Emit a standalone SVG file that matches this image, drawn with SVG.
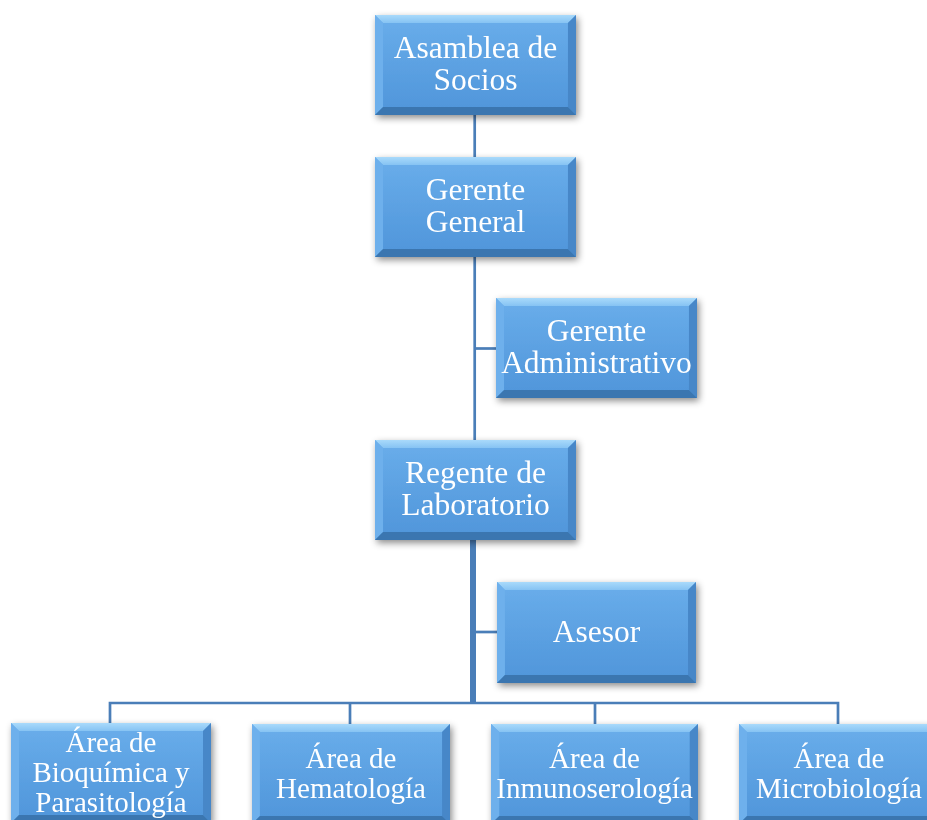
<svg xmlns="http://www.w3.org/2000/svg" xmlns:xlink="http://www.w3.org/1999/xlink" width="927" height="820" viewBox="0 0 927 820">
  <defs>
    <linearGradient id="face" x1="0" y1="0" x2="0" y2="1">
      <stop offset="0" stop-color="#6AAEEB"/>
      <stop offset="0.5" stop-color="#5CA1E2"/>
      <stop offset="1" stop-color="#4F95DA"/>
    </linearGradient>
    <linearGradient id="topEdge" x1="0" y1="0" x2="0" y2="1">
      <stop offset="0" stop-color="#A9DAFB"/>
      <stop offset="1" stop-color="#86C3F3"/>
    </linearGradient>
    <filter id="shadow" x="-10%" y="-10%" width="125%" height="130%">
      <feDropShadow dx="2" dy="3" stdDeviation="3.5" flood-color="#000" flood-opacity="0.45"/>
    </filter>
    <!-- bevelled tile, 200 x 100 -->
    <g id="tile">
      <rect x="0" y="0" width="200" height="100" fill="url(#face)"/>
      <polygon points="0,0 200,0 192,8 8,8" fill="url(#topEdge)"/>
      <polygon points="0,0 8,8 8,92 0,100" fill="#6EB0EC"/>
      <polygon points="200,0 200,100 192,92 192,8" fill="#4687C8"/>
      <polygon points="0,100 8,92 192,92 200,100" fill="#3B76B0"/>
    </g>
  </defs>
  <style>
    .node { filter: url(#shadow); }
    .label { fill: #FFFFFF; font-family: "Liberation Serif", "Times New Roman", serif; text-anchor: middle; }
    .big { font-size: 31.5px; }
    .small { font-size: 29px; }
    .link { stroke: #4A7EB8; fill: none; stroke-width: 2.7; }
    .trunk { stroke: #4A7EB8; fill: none; stroke-width: 6; }
  </style>

  <rect width="927" height="820" fill="#FFFFFF"/>

  <!-- connectors -->
  <g id="connectors">
    <line class="link" x1="474.7" y1="115" x2="474.7" y2="157"/>
    <line class="link" x1="474.7" y1="257" x2="474.7" y2="440"/>
    <line class="link" x1="474.7" y1="348.5" x2="496" y2="348.5"/>
    <line class="trunk" x1="473" y1="540" x2="473" y2="704"/>
    <line class="link" x1="473" y1="632" x2="497" y2="632"/>
    <polyline class="link" points="110,724 110,703 838,703 838,724"/>
    <line class="link" x1="350" y1="703" x2="350" y2="724"/>
    <line class="link" x1="595" y1="703" x2="595" y2="724"/>
  </g>

  <g id="asamblea" class="node">
    <use xlink:href="#tile" transform="translate(375,15) scale(1.005,1)"/>
    <text class="label big" x="475.5" y="58">Asamblea de</text>
    <text class="label big" x="475.5" y="90">Socios</text>
  </g>

  <g id="gerente-general" class="node">
    <use xlink:href="#tile" transform="translate(375,157) scale(1.005,1)"/>
    <text class="label big" x="475.5" y="200">Gerente</text>
    <text class="label big" x="475.5" y="232">General</text>
  </g>

  <g id="gerente-administrativo" class="node">
    <use xlink:href="#tile" transform="translate(496,298) scale(1.005,1)"/>
    <text class="label big" x="596.5" y="341">Gerente</text>
    <text class="label big" x="596.5" y="373">Administrativo</text>
  </g>

  <g id="regente" class="node">
    <use xlink:href="#tile" transform="translate(375,440) scale(1.005,1)"/>
    <text class="label big" x="475.5" y="483">Regente de</text>
    <text class="label big" x="475.5" y="515">Laboratorio</text>
  </g>

  <g id="asesor" class="node">
    <use xlink:href="#tile" transform="translate(497,582) scale(0.995,1.01)"/>
    <text class="label big" x="596.5" y="642">Asesor</text>
  </g>

  <g id="bioquimica" class="node">
    <use xlink:href="#tile" transform="translate(11,723)"/>
    <text class="label small" x="111" y="752">Área de</text>
    <text class="label small" x="111" y="782">Bioquímica y</text>
    <text class="label small" x="111" y="812">Parasitología</text>
  </g>

  <g id="hematologia" class="node">
    <use xlink:href="#tile" transform="translate(252,724) scale(0.99,1)"/>
    <text class="label small" x="351" y="768">Área de</text>
    <text class="label small" x="351" y="798">Hematología</text>
  </g>

  <g id="inmunoserologia" class="node">
    <use xlink:href="#tile" transform="translate(491,724) scale(1.035,1)"/>
    <text class="label small" x="594.5" y="768">Área de</text>
    <text class="label small" x="594.5" y="798">Inmunoserología</text>
  </g>

  <g id="microbiologia" class="node">
    <use xlink:href="#tile" transform="translate(739,724)"/>
    <text class="label small" x="839" y="768">Área de</text>
    <text class="label small" x="839" y="798">Microbiología</text>
  </g>
</svg>
